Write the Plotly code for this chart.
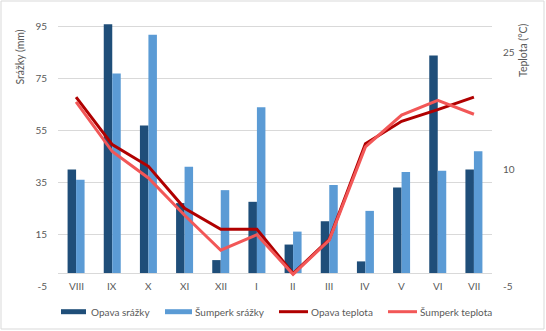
import plotly.graph_objects as go

# Monthly precipitation (mm) and mean temperature (°C), hydrological year VIII–VII
months = ["VIII", "IX", "X", "XI", "XII", "I", "II", "III", "IV", "V", "VI", "VII"]
opava_srazky = [40, 96, 57, 27, 5, 27.5, 11, 20, 4.5, 33, 84, 40]
sumperk_srazky = [36, 77, 92, 41, 32, 64, 16, 34, 24, 39, 39.5, 47]
opava_teplota = [19.3, 13.2, 10.4, 5.0, 2.3, 2.3, -3.4, 1.0, 13.3, 16.2, 17.7, 19.3]
sumperk_teplota = [18.7, 12.3, 8.9, 4.1, -0.4, 1.6, -3.5, 0.9, 12.9, 17.0, 18.9, 17.1]

# axis ticks (plain hyphen for negatives)
srazky_ticks = [-5, 15, 35, 55, 75, 95]
srazky_ticktext = ["-5", "15", "35", "55", "75", "95"]
teplota_ticks = [-5, 10, 25]
teplota_ticktext = ["-5", "10", "25"]

W, H = 546, 331
ML, MR, MT, MB = 58, 54, 14, 45
PW, PH = W - ML - MR, H - MT - MB

FONT = "Lato"
GREY = "#595959"
C_OP_BAR, C_SU_BAR = "#1F4E79", "#5B9BD5"
C_OP_LINE, C_SU_LINE = "#B00000", "#F25757"


def px_x(px):
    return (px - ML) / PW


def px_y(py):
    return (H - MB - py) / PH


fig = go.Figure()
fig.add_trace(go.Bar(x=months, y=opava_srazky, name="Opava srážky",
                     marker=dict(color=C_OP_BAR, line=dict(width=0))))
fig.add_trace(go.Bar(x=months, y=sumperk_srazky, name="Šumperk srážky",
                     marker=dict(color=C_SU_BAR, line=dict(width=0))))
fig.add_trace(go.Scatter(x=months, y=opava_teplota, name="Opava teplota", yaxis="y2",
                         mode="lines", line=dict(color=C_OP_LINE, width=3)))
fig.add_trace(go.Scatter(x=months, y=sumperk_teplota, name="Šumperk teplota", yaxis="y2",
                         mode="lines", line=dict(color=C_SU_LINE, width=3)))

annotations = []
# category labels sit on the lowest gridline, masking it behind the text
for m in months:
    annotations.append(dict(x=m, y=-5, xref="x", yref="y", text=m, showarrow=False,
                            bgcolor="white", borderpad=2,
                            font=dict(family=FONT, size=10, color=GREY)))

# axis titles
annotations.append(dict(x=px_x(19.5), y=px_y(57), xref="paper", yref="paper",
                        xanchor="center", yanchor="middle",
                        text="Srážky (mm)", textangle=-90, showarrow=False,
                        font=dict(family=FONT, size=10.5, color=GREY)))
annotations.append(dict(x=px_x(523), y=px_y(50), xref="paper", yref="paper",
                        xanchor="center", yanchor="middle",
                        text="Teplota (°C)", textangle=-90, showarrow=False,
                        font=dict(family=FONT, size=10.5, color=GREY)))

shapes = []
# legend
LY = 311.7
legend_items = [
    ("rect", C_OP_BAR, 61, 86, 89, "Opava srážky"),
    ("rect", C_SU_BAR, 165, 192, 193, "Šumperk srážky"),
    ("line", C_OP_LINE, 279, 308, 309, "Opava teplota"),
    ("line", C_SU_LINE, 388, 417, 418, "Šumperk teplota"),
]
for kind, col, x0, x1, tx, label in legend_items:
    if kind == "rect":
        shapes.append(dict(type="rect", xref="paper", yref="paper",
                           x0=px_x(x0), x1=px_x(x1), y0=px_y(LY + 2.5), y1=px_y(LY - 2.5),
                           fillcolor=col, line=dict(width=0)))
    else:
        shapes.append(dict(type="line", xref="paper", yref="paper",
                           x0=px_x(x0), x1=px_x(x1), y0=px_y(LY), y1=px_y(LY),
                           line=dict(color=col, width=3)))
    annotations.append(dict(x=px_x(tx), y=px_y(LY), xref="paper", yref="paper",
                            xanchor="left", yanchor="middle", text=label, showarrow=False,
                            font=dict(family=FONT, size=10, color=GREY)))

# chart border
shapes.append(dict(type="rect", xref="paper", yref="paper",
                   x0=px_x(1), x1=px_x(W - 2), y0=px_y(H - 2), y1=px_y(1),
                   line=dict(color="#D9D9D9", width=1), fillcolor="rgba(0,0,0,0)", layer="below"))

fig.update_layout(
    width=W, height=H,
    margin=dict(l=ML, r=MR, t=MT, b=MB, pad=0),
    paper_bgcolor="white", plot_bgcolor="white",
    barmode="group", bargap=0.53, bargroupgap=0,
    showlegend=False,
    font=dict(family=FONT, size=10, color=GREY),
    xaxis=dict(showticklabels=False, showgrid=False, zeroline=False, showline=False,
               ticks="", automargin=False),
    yaxis=dict(range=[-5, 100], tickmode="array", tickvals=srazky_ticks,
               ticktext=srazky_ticktext, showgrid=True, gridcolor="#D9D9D9",
               gridwidth=1, zeroline=True, zerolinecolor="#D9D9D9", zerolinewidth=1,
               showline=False, ticks="", ticklabelstandoff=10, automargin=False,
               tickfont=dict(family=FONT, size=10, color=GREY)),
    yaxis2=dict(range=[-5, 30], tickmode="array", tickvals=teplota_ticks,
                ticktext=teplota_ticktext, overlaying="y", side="right",
                showgrid=False, zeroline=False, showline=False, ticks="",
                ticklabelstandoff=10, automargin=False,
                tickfont=dict(family=FONT, size=10, color=GREY)),
    annotations=annotations,
    shapes=shapes,
)

fig.write_html("out.html")
